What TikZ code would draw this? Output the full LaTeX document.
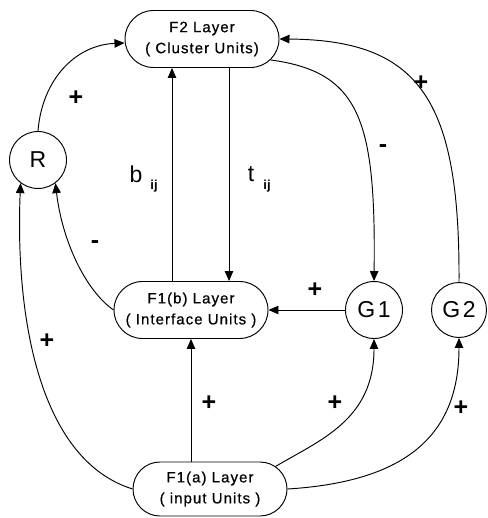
\documentclass[tikz,border=0pt]{standalone}
\usepackage{fontspec}
\setmainfont{Liberation Sans}
\usetikzlibrary{arrows.meta,shapes.misc,calc}
\begin{document}
\begin{tikzpicture}[x=1pt,y=-1pt,
  line width=0.95pt,
  arr/.style={-{Triangle[length=10pt,width=8.5pt]}},
  layer/.style={draw, rounded rectangle, minimum width=154pt, minimum height=57pt,
    inner sep=0pt, align=center,
    font=\fontsize{15}{21}\selectfont\addfontfeature{LetterSpace=7,FakeBold=0.6}},
  unit/.style={draw, circle, minimum size=57pt, inner sep=0pt,
    font=\fontsize{23}{23}\selectfont\addfontfeature{LetterSpace=12}},
  sign/.style={font=\fontsize{25}{25}\selectfont\bfseries, inner sep=0pt},
  lbl/.style={font=\fontsize{23}{23}\selectfont, inner sep=0pt},
  sub/.style={font=\fontsize{13}{13}\selectfont\bfseries, inner sep=0pt}]
\useasboundingbox (0,0) rectangle (487,518);

\node[layer] (F2)  at (202,39)  {F2 Layer\\( Cluster Units)};
\node[layer] (F1b) at (191,310) {F1(b) Layer\\( Interface Units )};
\node[layer, minimum height=54pt] (F1a) at (210,489) {F1(a) Layer\\( input Units )};
\node[unit] (R)  at (38,160)  {R};
\node[unit] (G1) at (374,310) {G1};
\node[unit, minimum size=55pt] (G2) at (459,310) {G2};

% b_ij and t_ij
\coordinate (bl) at ([xshift=-19pt]F1b.north);
\coordinate (bu) at (bl |- F2.south);
\coordinate (tl) at ([xshift=38pt]F1b.north);
\coordinate (tu) at (tl |- F2.south);
\draw[arr] (bl) -- (bu);
\draw[arr] (tu) -- (tl);

% R -> F2
\draw[arr] (R.north) .. controls (42,80) and (75,45) .. ([yshift=-4pt]F2.west);
% F2 -> G1
\draw[arr] (F2.-17) .. controls (360,72) and (376,120) .. (G1.north);
% G2 -> F2
\draw[arr] (G2.north) .. controls (460,100) and (420,40) .. (F2.east);
% F1b -> R
\draw[arr] (F1b.west) .. controls (85,290) and (62,240) .. (R.-53);
% F1a -> R
\draw[arr] (F1a.west) .. controls (40,460) and (15,320) .. (R.-127);
% F1a -> F1b
\draw[arr] (F1a.north -| F1b.south) -- (F1b.south);
% F1a -> G1
\draw[arr] (F1a.19) .. controls (320,440) and (374,420) .. (G1.south);
% F1a -> G2
\draw[arr] (F1a.east) .. controls (400,482) and (459,440) .. (G2.south);
% G1 -> F1b
\draw[arr] (G1.west) -- (F1b.east);

% labels
\node[lbl] (lb) at (136,174) {b};
\node[sub] (lbs) at (154,186) {ij};
\node[lbl] (lt) at (251,174) {t};
\node[sub] (lts) at (267,186) {ij};
\node[sign] (p1) at (76,98) {+};
\node[sign] (p2) at (421,83) {+};
\node[sign] (m1) at (383,149) {-};
\node[sign] (m2) at (95,245) {-};
\node[sign] (p3) at (315,290) {+};
\node[sign] (p4) at (47,341) {+};
\node[sign] (p5) at (209,403) {+};
\node[sign] (p6) at (335,403) {+};
\node[sign] (p7) at (461,408) {+};
\end{tikzpicture}
\end{document}
